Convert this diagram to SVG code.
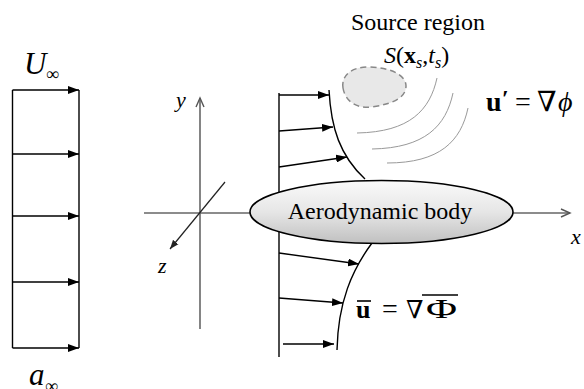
<svg xmlns="http://www.w3.org/2000/svg" width="584" height="389" viewBox="0 0 584 389" font-family="'Liberation Serif', 'Times New Roman', 'DejaVu Serif', serif">
<style>
.ln{stroke:#000;stroke-width:1.4;fill:none}
.ax{stroke:#666;stroke-width:1.6;fill:none}
.fl{stroke:#999;stroke-width:1;fill:none}
text{font-family:'Liberation Serif','Times New Roman','DejaVu Serif',serif;fill:#000}
.it{font-style:italic}
.b{font-weight:bold}
</style>
<defs>
<marker id="ah" markerUnits="userSpaceOnUse" markerWidth="12" markerHeight="8" refX="11" refY="4" orient="auto">
<path d="M0,0 L11,4 L0,8 Z" fill="#000"/>
</marker>
<marker id="oa" markerUnits="userSpaceOnUse" markerWidth="12" markerHeight="10" refX="10" refY="5" orient="auto">
<path d="M1,1 L10,5 L1,9" fill="none" stroke="#555" stroke-width="1.4"/>
</marker>
<marker id="za" markerUnits="userSpaceOnUse" markerWidth="10" markerHeight="8" refX="9" refY="4" orient="auto">
<path d="M0,0.5 L9,4 L0,7.5 Z" fill="#222"/>
</marker>
<linearGradient id="bg" x1="0" y1="0" x2="0" y2="1">
<stop offset="0" stop-color="#fafafa"/>
<stop offset="0.5" stop-color="#e6e6e6"/>
<stop offset="1" stop-color="#c0c0c0"/>
</linearGradient>
</defs>

<g id="freestream">
<line class="ln" x1="12.5" y1="90" x2="12.5" y2="348"/>
<line class="ln" x1="79" y1="90" x2="79" y2="348"/>
<text class="it" x="24" y="74" font-size="31">U</text>
<text x="46" y="80" font-size="18">∞</text>
<text class="it" x="29" y="385" font-size="31">a</text>
<text x="45" y="392" font-size="18">∞</text>
</g>

<g id="axes">
<line class="ax" x1="200" y1="329" x2="200" y2="98" marker-end="url(#oa)"/>
<line class="ax" x1="144" y1="213" x2="251" y2="213"/>
<line class="ax" x1="513" y1="213" x2="570" y2="213" marker-end="url(#oa)"/>
<line x1="225" y1="182" x2="170" y2="249" stroke="#222" stroke-width="1.2" marker-end="url(#za)"/>
<text class="it" x="176" y="107" font-size="22">y</text>
<text class="it" x="158" y="273" font-size="22">z</text>
<text class="it" x="571" y="244" font-size="22">x</text>
</g>

<g id="velocity-profile">
<line class="ln" x1="279" y1="93" x2="279" y2="357"/>
<path class="ln" d="M329,90 C331,128 340,156 365,179"/>
<path class="ln" d="M372,243 C352,270 338,302 337,350"/>
</g>

<g id="body">
<ellipse cx="381.5" cy="212" rx="131.5" ry="31.5" fill="url(#bg)" stroke="#000" stroke-width="1.6"/>
<text x="380" y="219" font-size="24" text-anchor="middle">Aerodynamic body</text>
</g>

<g id="source-region">
<path d="M343,88 C341,75 352,67 368,67 C388,67 406,74 406,86 C406,98 392,104 372,107 C355,109 345,100 343,88 Z" fill="#e8e8e8" stroke="#888" stroke-width="1.5" stroke-dasharray="6,4"/>
<path class="fl" d="M437,78 C430,110 410,132 357,133"/>
<path class="fl" d="M453,93 C446,126 425,148 372,149"/>
<path class="fl" d="M468,108 C461,141 440,163 387,163"/>
<text x="418" y="30" font-size="24" text-anchor="middle">Source region</text>
<text x="384" y="63" font-size="24"><tspan class="it">S</tspan>(<tspan class="b">x</tspan><tspan class="it" font-size="16" dy="5">s</tspan><tspan dy="-5">,</tspan><tspan class="it">t</tspan><tspan class="it" font-size="16" dy="5">s</tspan><tspan dy="-5">)</tspan></text>
</g>

<g id="perturbation-label">
<text class="b" x="486" y="111" font-size="28">u</text>
<text class="b" x="502" y="106" font-size="24">′</text>
<text x="515" y="111" font-size="28">=</text>
<text x="537" y="111" font-size="28">∇</text>
<text class="it" x="558" y="111" font-size="28">ϕ</text>
</g>

<g id="mean-flow-label">
<text class="b" x="356" y="318" font-size="26">u</text>
<line x1="357" y1="301" x2="371" y2="301" stroke="#000" stroke-width="1.6"/>
<text x="382" y="318" font-size="28">=</text>
<text x="406" y="318" font-size="25">∇</text>
<text x="426" y="318" font-size="28" textLength="31" lengthAdjust="spacingAndGlyphs">Φ</text>
<line x1="422" y1="295" x2="458" y2="295" stroke="#000" stroke-width="1.6"/>
</g>

<g id="connectors">
<line class="ln" x1="12.5" y1="90" x2="79" y2="90" marker-end="url(#ah)"/>
<line class="ln" x1="12.5" y1="154" x2="79" y2="154" marker-end="url(#ah)"/>
<line class="ln" x1="12.5" y1="216" x2="79" y2="216" marker-end="url(#ah)"/>
<line class="ln" x1="12.5" y1="282" x2="79" y2="282" marker-end="url(#ah)"/>
<line class="ln" x1="12.5" y1="348" x2="79" y2="348" marker-end="url(#ah)"/>
<line class="ln" x1="279" y1="95" x2="329" y2="95" marker-end="url(#ah)"/>
<line class="ln" x1="279" y1="131" x2="333" y2="127" marker-end="url(#ah)"/>
<line class="ln" x1="279" y1="167" x2="347" y2="157" marker-end="url(#ah)"/>
<line class="ln" x1="279" y1="253" x2="359" y2="264" marker-end="url(#ah)"/>
<line class="ln" x1="279" y1="298" x2="343" y2="303" marker-end="url(#ah)"/>
<line class="ln" x1="283" y1="344" x2="334" y2="344" marker-end="url(#ah)"/>
</g>
</svg>
